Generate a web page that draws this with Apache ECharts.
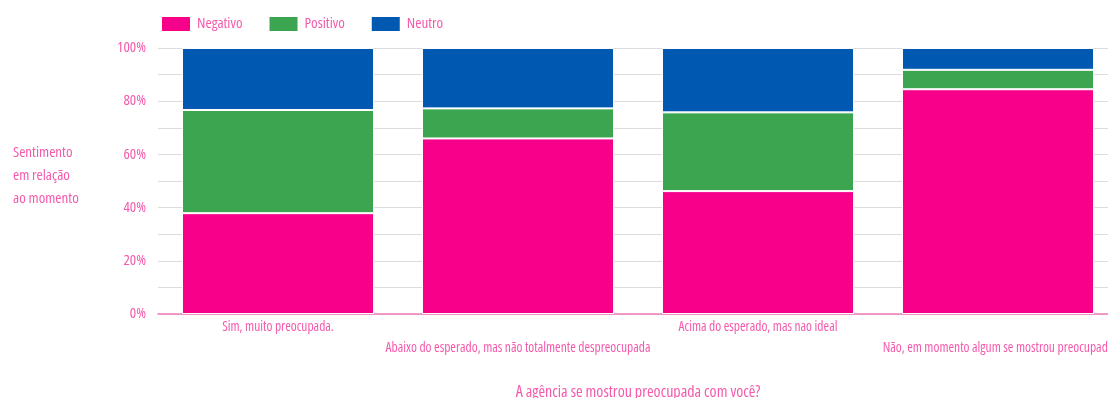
<!DOCTYPE html>
<html>
<head>
<meta charset="utf-8">
<script src="https://cdn.jsdelivr.net/npm/echarts@6/dist/echarts.min.js"></script>
<style>
  html, body { margin: 0; padding: 0; background: #fff; }
  #chart { width: 1108px; height: 398px; }
</style>
</head>
<body>
<div id="chart"></div>
<script>
// Answers to "A agência se mostrou preocupada com você?"
const categories = [
  'Sim, muito preocupada.',
  'Abaixo do esperado, mas não totalmente despreocupada',
  'Acima do esperado, mas nao ideal',
  'Não, em momento algum se mostrou preocupada'
];
// Share of each sentiment per answer (%)
const negativo = [37.9, 66.0, 46.2, 84.5];
const positivo = [38.8, 11.3, 29.6, 7.3];
const neutro   = [23.3, 22.7, 24.2, 8.2];

const seriesNames = ['Negativo', 'Positivo', 'Neutro'];
const colors = ['#f7008a', '#3ba64f', '#0058b0'];
const textPink = '#f45aac';
const font = "'Open Sans', sans-serif";
const weight = 500;

// Render every canvas label with the condensed width of the variable font
(function () {
  const proto = CanvasRenderingContext2D.prototype;
  const desc = Object.getOwnPropertyDescriptor(proto, 'font');
  if (!desc || !('fontStretch' in proto)) return;
  Object.defineProperty(proto, 'font', {
    configurable: true,
    get() { return desc.get.call(this); },
    set(v) { desc.set.call(this, v); this.fontStretch = 'condensed'; }
  });
})();

const chart = echarts.init(document.getElementById('chart'));

const mkSeries = (name, data, i) => ({
  name: name,
  type: 'bar',
  stack: 'total',
  data: data,
  barCategoryGap: '20%',
  itemStyle: { color: colors[i], borderColor: '#ffffff', borderWidth: 1 },
  emphasis: { disabled: true }
});

chart.setOption({
  animation: false,
  color: colors,
  textStyle: { fontFamily: font, fontWeight: weight },
  legend: {
    left: 160,
    top: 15,
    padding: 0,
    itemWidth: 30,
    itemHeight: 16,
    itemGap: 25,
    icon: 'rect',
    textStyle: { color: textPink, fontSize: 15, fontWeight: weight, fontFamily: font, padding: [0, 0, 0, 1] },
    data: seriesNames
  },
  grid: { left: 158, top: 48, width: 960, height: 266, outerBoundsMode: 'none', containLabel: false },
  xAxis: {
    type: 'category',
    data: categories,
    name: 'A agência se mostrou preocupada com você?',
    nameLocation: 'middle',
    nameGap: 70,
    nameTextStyle: { color: textPink, fontSize: 16, fontWeight: weight, fontFamily: font },
    axisLine: { lineStyle: { color: '#f47cbd', width: 1.5 } },
    axisTick: { show: false },
    axisLabel: {
      interval: 0,
      margin: 3,
      color: textPink,
      fontSize: 13.5,
      fontWeight: weight,
      lineHeight: 21,
      fontFamily: font,
      formatter: (v, i) => (i % 2 === 1 ? '\n' + v : v)
    }
  },
  yAxis: {
    type: 'value',
    min: 0,
    max: 100,
    interval: 20,
    axisLine: { show: false },
    axisTick: { show: false },
    axisLabel: {
      margin: 12,
      color: textPink,
      fontSize: 15,
      fontWeight: weight,
      fontFamily: font,
      formatter: '{value}%'
    },
    splitLine: { lineStyle: { color: '#dcdcdc', width: 1 } },
    minorTick: { show: false, splitNumber: 2 },
    minorSplitLine: { show: true, lineStyle: { color: '#dcdcdc', width: 1 } }
  },
  graphic: [{
    type: 'text',
    left: 13,
    top: 141,
    style: {
      text: 'Sentimento\nem relação\nao momento',
      fill: textPink,
      font: weight + ' 15px ' + font,
      lineHeight: 23
    }
  }],
  series: [
    mkSeries(seriesNames[0], negativo, 0),
    mkSeries(seriesNames[1], positivo, 1),
    mkSeries(seriesNames[2], neutro, 2)
  ]
});
</script>
</body>
</html>
